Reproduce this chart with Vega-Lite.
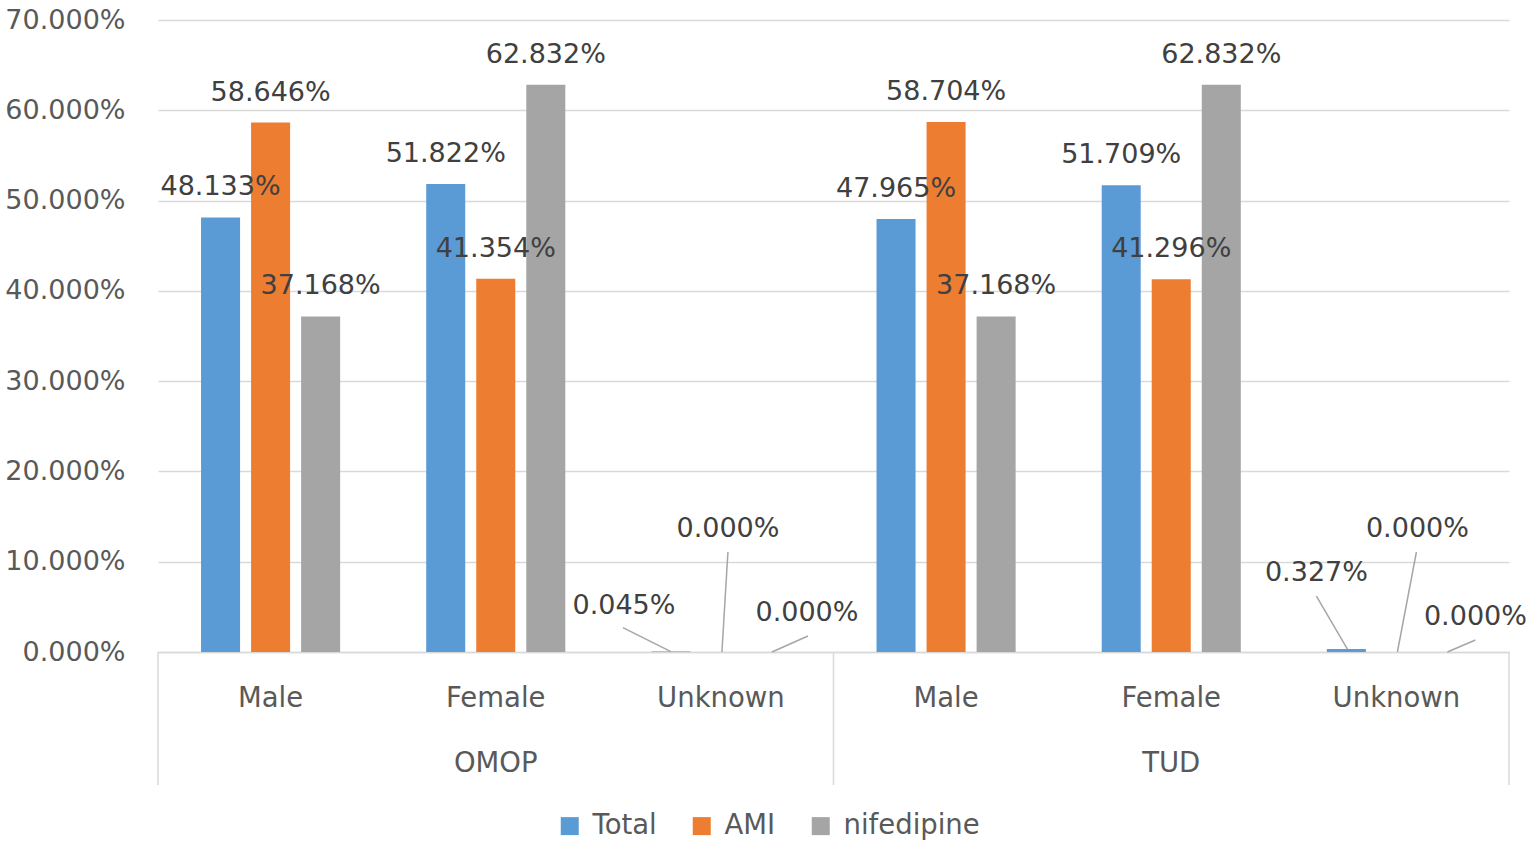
{
  "$schema": "https://vega.github.io/schema/vega-lite/v6.json",
  "description": "Sex distribution by cohort, OMOP vs TUD",
  "autosize": "none",
  "width": 1351,
  "height": 632,
  "padding": {"left": 158, "top": 20, "right": 26, "bottom": 197},
  "background": "white",
  "config": {
    "font": "DejaVu Sans",
    "view": {"stroke": null}
  },
  "data": {
    "values": [
      {"group": "OMOP", "sex": "Male", "cat": "OMOP Male", "series": "Total", "pct": 0.48133},
      {"group": "OMOP", "sex": "Male", "cat": "OMOP Male", "series": "AMI", "pct": 0.58646},
      {"group": "OMOP", "sex": "Male", "cat": "OMOP Male", "series": "nifedipine", "pct": 0.37168},
      {"group": "OMOP", "sex": "Female", "cat": "OMOP Female", "series": "Total", "pct": 0.51822},
      {"group": "OMOP", "sex": "Female", "cat": "OMOP Female", "series": "AMI", "pct": 0.41354},
      {"group": "OMOP", "sex": "Female", "cat": "OMOP Female", "series": "nifedipine", "pct": 0.62832},
      {"group": "OMOP", "sex": "Unknown", "cat": "OMOP Unknown", "series": "Total", "pct": 0.00045},
      {"group": "OMOP", "sex": "Unknown", "cat": "OMOP Unknown", "series": "AMI", "pct": 0},
      {"group": "OMOP", "sex": "Unknown", "cat": "OMOP Unknown", "series": "nifedipine", "pct": 0},
      {"group": "TUD", "sex": "Male", "cat": "TUD Male", "series": "Total", "pct": 0.47965},
      {"group": "TUD", "sex": "Male", "cat": "TUD Male", "series": "AMI", "pct": 0.58704},
      {"group": "TUD", "sex": "Male", "cat": "TUD Male", "series": "nifedipine", "pct": 0.37168},
      {"group": "TUD", "sex": "Female", "cat": "TUD Female", "series": "Total", "pct": 0.51709},
      {"group": "TUD", "sex": "Female", "cat": "TUD Female", "series": "AMI", "pct": 0.41296},
      {"group": "TUD", "sex": "Female", "cat": "TUD Female", "series": "nifedipine", "pct": 0.62832},
      {"group": "TUD", "sex": "Unknown", "cat": "TUD Unknown", "series": "Total", "pct": 0.00327},
      {"group": "TUD", "sex": "Unknown", "cat": "TUD Unknown", "series": "AMI", "pct": 0},
      {"group": "TUD", "sex": "Unknown", "cat": "TUD Unknown", "series": "nifedipine", "pct": 0}
    ]
  },
  "encoding": {
    "x": {
      "field": "cat",
      "type": "nominal",
      "sort": ["OMOP Male", "OMOP Female", "OMOP Unknown", "TUD Male", "TUD Female", "TUD Unknown"],
      "scale": {"paddingInner": 0.3333, "paddingOuter": 0.1667},
      "axis": {
        "title": null,
        "labelExpr": "split(datum.value, ' ')[1]",
        "labelAngle": 0,
        "labelFontSize": 27.5,
        "labelColor": "#595959",
        "labelPadding": 32,
        "ticks": false,
        "domainColor": "#D9D9D9",
        "domainWidth": 1.5
      }
    },
    "y": {
      "field": "pct",
      "type": "quantitative",
      "scale": {"domain": [0, 0.7], "nice": false, "zero": true},
      "axis": {
        "title": null,
        "values": [0, 0.1, 0.2, 0.3, 0.4, 0.5, 0.6, 0.7],
        "format": ".3%",
        "labelFontSize": 27,
        "labelColor": "#595959",
        "labelPadding": 33,
        "ticks": false,
        "domain": false,
        "gridColor": "#D9D9D9",
        "gridWidth": 1.5
      }
    }
  },
  "layer": [
    {
      "mark": {"type": "bar"},
      "encoding": {
        "xOffset": {
          "field": "series",
          "sort": ["Total", "AMI", "nifedipine"],
          "scale": {"paddingInner": 0.22, "paddingOuter": 0.11}
        },
        "color": {
          "field": "series",
          "type": "nominal",
          "scale": {
            "domain": ["Total", "AMI", "nifedipine"],
            "range": ["#5B9BD5", "#ED7D31", "#A5A5A5"]
          },
          "legend": {
            "title": null,
            "orient": "none",
            "direction": "horizontal",
            "legendX": 398,
            "legendY": 792,
            "symbolType": "square",
            "symbolSize": 324,
            "symbolStrokeWidth": 0,
            "labelFontSize": 27.5,
            "labelColor": "#595959",
            "labelOffset": 9,
            "columnPadding": 31
          }
        }
      }
    },
    {
      "transform": [{"filter": "datum.sex != 'Unknown'"}],
      "mark": {"type": "text", "baseline": "middle", "dy": -30, "fontSize": 27, "color": "#404040"},
      "encoding": {
        "xOffset": {"field": "series", "sort": ["Total", "AMI", "nifedipine"]},
        "text": {"field": "pct", "type": "quantitative", "format": ".3%"}
      }
    },
    {
      "transform": [{"filter": "datum.cat == 'OMOP Unknown' && datum.series == 'Total'"}],
      "mark": {"type": "text", "baseline": "middle", "dx": -97, "dy": -46, "fontSize": 27, "color": "#404040"},
      "encoding": {"text": {"field": "pct", "type": "quantitative", "format": ".3%"}}
    },
    {
      "transform": [{"filter": "datum.cat == 'OMOP Unknown' && datum.series == 'AMI'"}],
      "mark": {"type": "text", "baseline": "middle", "dx": 7, "dy": -123, "fontSize": 27, "color": "#404040"},
      "encoding": {"text": {"field": "pct", "type": "quantitative", "format": ".3%"}}
    },
    {
      "transform": [{"filter": "datum.cat == 'OMOP Unknown' && datum.series == 'nifedipine'"}],
      "mark": {"type": "text", "baseline": "middle", "dx": 86, "dy": -39, "fontSize": 27, "color": "#404040"},
      "encoding": {"text": {"field": "pct", "type": "quantitative", "format": ".3%"}}
    },
    {
      "transform": [{"filter": "datum.cat == 'TUD Unknown' && datum.series == 'Total'"}],
      "mark": {"type": "text", "baseline": "middle", "dx": -80, "dy": -76, "fontSize": 27, "color": "#404040"},
      "encoding": {"text": {"field": "pct", "type": "quantitative", "format": ".3%"}}
    },
    {
      "transform": [{"filter": "datum.cat == 'TUD Unknown' && datum.series == 'AMI'"}],
      "mark": {"type": "text", "baseline": "middle", "dx": 21, "dy": -123, "fontSize": 27, "color": "#404040"},
      "encoding": {"text": {"field": "pct", "type": "quantitative", "format": ".3%"}}
    },
    {
      "transform": [{"filter": "datum.cat == 'TUD Unknown' && datum.series == 'nifedipine'"}],
      "mark": {"type": "text", "baseline": "middle", "dx": 79, "dy": -35, "fontSize": 27, "color": "#404040"},
      "encoding": {"text": {"field": "pct", "type": "quantitative", "format": ".3%"}}
    },
    {
      "transform": [{"filter": "datum.cat == 'OMOP Unknown' && datum.series == 'Total'"}],
      "mark": {"type": "rule", "color": "#A6A6A6", "strokeWidth": 1.5, "xOffset": -50, "x2Offset": -98, "yOffset": 0, "y2Offset": -24},
      "encoding": {"x2": {"field": "cat"}, "y2": {"field": "pct"}}
    },
    {
      "transform": [{"filter": "datum.cat == 'OMOP Unknown' && datum.series == 'AMI'"}],
      "mark": {"type": "rule", "color": "#A6A6A6", "strokeWidth": 1.5, "xOffset": 1, "x2Offset": 7, "yOffset": 0, "y2Offset": -100},
      "encoding": {"x2": {"field": "cat"}, "y2": {"field": "pct"}}
    },
    {
      "transform": [{"filter": "datum.cat == 'OMOP Unknown' && datum.series == 'nifedipine'"}],
      "mark": {"type": "rule", "color": "#A6A6A6", "strokeWidth": 1.5, "xOffset": 51, "x2Offset": 87, "yOffset": 0, "y2Offset": -16},
      "encoding": {"x2": {"field": "cat"}, "y2": {"field": "pct"}}
    },
    {
      "transform": [{"filter": "datum.cat == 'TUD Unknown' && datum.series == 'Total'"}],
      "mark": {"type": "rule", "color": "#A6A6A6", "strokeWidth": 1.5, "xOffset": -49, "x2Offset": -80, "yOffset": 0, "y2Offset": -53},
      "encoding": {"x2": {"field": "cat"}, "y2": {"field": "pct"}}
    },
    {
      "transform": [{"filter": "datum.cat == 'TUD Unknown' && datum.series == 'AMI'"}],
      "mark": {"type": "rule", "color": "#A6A6A6", "strokeWidth": 1.5, "xOffset": 1, "x2Offset": 20, "yOffset": 0, "y2Offset": -100},
      "encoding": {"x2": {"field": "cat"}, "y2": {"field": "pct"}}
    },
    {
      "transform": [{"filter": "datum.cat == 'TUD Unknown' && datum.series == 'nifedipine'"}],
      "mark": {"type": "rule", "color": "#A6A6A6", "strokeWidth": 1.5, "xOffset": 51, "x2Offset": 79, "yOffset": 0, "y2Offset": -12},
      "encoding": {"x2": {"field": "cat"}, "y2": {"field": "pct"}}
    },
    {
      "transform": [{"filter": "datum.sex == 'Male' && datum.series == 'Total'"}],
      "mark": {"type": "rule", "color": "#D9D9D9", "strokeWidth": 1.5},
      "encoding": {
        "x": {"field": "cat", "type": "nominal", "bandPosition": -0.25},
        "y": {"datum": 0},
        "y2": {"datum": -0.1473}
      }
    },
    {
      "transform": [{"filter": "datum.cat == 'TUD Unknown' && datum.series == 'Total'"}],
      "mark": {"type": "rule", "color": "#D9D9D9", "strokeWidth": 1.5},
      "encoding": {
        "x": {"field": "cat", "type": "nominal", "bandPosition": 1.25},
        "y": {"datum": 0},
        "y2": {"datum": -0.1473}
      }
    },
    {
      "transform": [{"filter": "datum.sex == 'Female' && datum.series == 'Total'"}],
      "mark": {"type": "text", "baseline": "middle", "fontSize": 27.5, "color": "#595959"},
      "encoding": {
        "y": {"datum": -0.1235},
        "text": {"field": "group", "type": "nominal"}
      }
    }
  ]
}
